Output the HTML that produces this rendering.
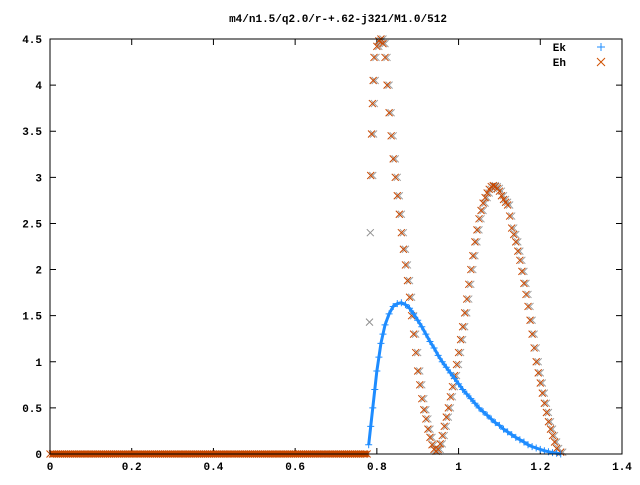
<!DOCTYPE html>
<html><head><meta charset="utf-8"><style>
body{margin:0;background:#fff}
text{font-family:"Liberation Mono","DejaVu Sans Mono",monospace;font-size:11px;font-weight:bold;fill:#000}
</style></head><body>
<svg id="chart" width="640" height="480" xmlns="http://www.w3.org/2000/svg">
<rect width="640" height="480" fill="#fff"/>
<text x="338" y="22" text-anchor="middle">m4/n1.5/q2.0/r-+.62-j321/M1.0/512</text>
<g id="axes"></g>
<g id="marks"></g>
<g>
<text x="566" y="51" text-anchor="end">Ek</text>
<text x="566" y="66" text-anchor="end">Eh</text>
<path d="M597,47h8M601,43v8" stroke="#1e8cff" stroke-width="1"/>
<path d="M597,58l8,8M605,58l-8,8" stroke="#d05000" stroke-width="1"/>
</g>
<rect x="50" y="39" width="572" height="415" fill="none" stroke="#000" stroke-width="1"/>
</svg>
<script>
const xTicks=[0,0.2,0.4,0.6,0.8,1,1.2,1.4];
const xTickLabels=["0","0.2","0.4","0.6","0.8","1","1.2","1.4"];
const yTicks=[0,0.5,1,1.5,2,2.5,3,3.5,4,4.5];
const yTickLabels=["0","0.5","1","1.5","2","2.5","3","3.5","4","4.5"];
const zeroX=[0,0.01,0.02,0.03,0.04,0.05,0.06,0.07,0.08,0.09,0.1,0.11,0.12,0.13,0.14,0.15,0.16,0.17,0.18,0.19,0.2,0.21,0.22,0.23,0.24,0.25,0.26,0.27,0.28,0.29,0.3,0.31,0.32,0.33,0.34,0.35,0.36,0.37,0.38,0.39,0.4,0.41,0.42,0.43,0.44,0.45,0.46,0.47,0.48,0.49,0.5,0.51,0.52,0.53,0.54,0.55,0.56,0.57,0.58,0.59,0.6,0.61,0.62,0.63,0.64,0.65,0.66,0.67,0.68,0.69,0.7,0.71,0.72,0.73,0.74,0.75,0.76,0.77];
const ekX=[0.78,0.785,0.79,0.795,0.80,0.805,0.81,0.815,0.82,0.83,0.84,0.85,0.86,0.87,0.88,0.89,0.90,0.91,0.92,0.93,0.94,0.95,0.96,0.97,0.98,0.99,1.0,1.01,1.02,1.03,1.04,1.05,1.06,1.07,1.08,1.09,1.10,1.11,1.12,1.13,1.14,1.15,1.16,1.17,1.18,1.19,1.20,1.21,1.22,1.23,1.24,1.25];
const ekY=[0.1,0.3,0.5,0.7,0.9,1.05,1.2,1.3,1.4,1.52,1.6,1.63,1.64,1.62,1.58,1.52,1.45,1.38,1.3,1.22,1.15,1.07,1.0,0.94,0.88,0.82,0.76,0.7,0.65,0.6,0.55,0.5,0.46,0.42,0.38,0.34,0.31,0.27,0.24,0.21,0.18,0.155,0.13,0.1,0.08,0.065,0.05,0.035,0.025,0.015,0.008,0.0];
const ehX=[0.785,0.787,0.789,0.791,0.793,0.80,0.805,0.81,0.815,0.82,0.825,0.83,0.835,0.84,0.845,0.85,0.855,0.86,0.865,0.87,0.875,0.88,0.885,0.89,0.895,0.90,0.905,0.91,0.915,0.92,0.925,0.93,0.935,0.94,0.945,0.95,0.955,0.96,0.965,0.97,0.975,0.98,0.985,0.99,0.995,1.0,1.005,1.01,1.015,1.02,1.025,1.03,1.035,1.04,1.045,1.05,1.055,1.06,1.065,1.07,1.075,1.08,1.085,1.09,1.095,1.10,1.105,1.11,1.115,1.12,1.125,1.13,1.135,1.14,1.145,1.15,1.155,1.16,1.165,1.17,1.175,1.18,1.185,1.19,1.195,1.20,1.205,1.21,1.215,1.22,1.225,1.23,1.235,1.24,1.25];
const ehY=[3.02,3.47,3.8,4.05,4.3,4.42,4.48,4.5,4.45,4.3,4.0,3.7,3.45,3.2,3.0,2.8,2.6,2.4,2.22,2.05,1.88,1.7,1.5,1.3,1.1,0.9,0.75,0.6,0.48,0.38,0.27,0.18,0.1,0.05,0.03,0.05,0.11,0.2,0.3,0.4,0.5,0.62,0.73,0.85,0.97,1.1,1.24,1.38,1.53,1.68,1.84,2.0,2.15,2.3,2.43,2.55,2.64,2.72,2.78,2.83,2.87,2.9,2.91,2.9,2.88,2.85,2.8,2.76,2.73,2.7,2.58,2.45,2.38,2.3,2.2,2.1,1.98,1.85,1.73,1.6,1.45,1.3,1.15,1.0,0.88,0.77,0.66,0.55,0.45,0.35,0.27,0.2,0.13,0.06,0.02];
const greyX=[0.782,0.784];
const greyY=[1.43,2.4];
const NS="http://www.w3.org/2000/svg";
const L=50,R=622,T=39,B=454;
function sx(v){return L+(v-0)/(1.4-0)*(R-L);}
function sy(v){return B-(v-0)/(4.5-0)*(B-T);}
const axes=document.getElementById('axes'),marks=document.getElementById('marks');
function mk(tag,attrs,parent){const e=document.createElementNS(NS,tag);for(const k in attrs)e.setAttribute(k,attrs[k]);parent.appendChild(e);return e;}
xTicks.forEach((v,i)=>{
 const x=sx(v);
 const t=mk('path',{d:`M${x},${B}v-6M${x},${T}v6`,stroke:'#000'},axes);
 
 
 const l=mk('text',{x:x,y:B+16,'text-anchor':'middle'},axes);l.textContent=xTickLabels[i];
 
 
});
yTicks.forEach((v,i)=>{
 const y=sy(v);
 const t=mk('path',{d:`M${L},${y}h6M${R},${y}h-6`,stroke:'#000'},axes);
 
 
 const l=mk('text',{x:L-8,y:y+4,'text-anchor':'end'},axes);l.textContent=yTickLabels[i];
 
 
});
function cross(x,y,c,name){const p=mk('path',{d:`M${x-3.5},${y-3.5}l7,7M${x+3.5},${y-3.5}l-7,7`,stroke:c,'stroke-width':1},marks);
 
 }
function plus(x,y,c,name){const p=mk('path',{d:`M${x-3.5},${y}h7M${x},${y-3.5}v7`,stroke:c,'stroke-width':1},marks);
 
 }
// grey companion series
ehX.forEach((v,i)=>cross(sx(v)+2,sy(ehY[i]),'#a0a0a0','eh-grey-point'));
greyX.forEach((v,i)=>cross(sx(v),sy(greyY[i]),'#909090','eh-grey-point'));
// baseline zeros
zeroX.forEach(v=>{cross(sx(v),sy(0),'#c84800','eh-point');cross(sx(v)+2.5,sy(0),'#c84800','eh-point');});
mk('rect',{x:sx(0),y:sy(0)-3,width:sx(0.78)-sx(0),height:6,fill:'#c84800'},marks);
ehX.forEach((v,i)=>cross(sx(v),sy(ehY[i]),'#c84800','eh-point'));
// Ek
const pl=mk('polyline',{points:ekX.map((v,i)=>sx(v)+','+sy(ekY[i])).join(' '),fill:'none',stroke:'#1e8cff','stroke-width':3},marks);


ekX.forEach((v,i)=>plus(sx(v),sy(ekY[i]),'#1e8cff','ek-point'));
</script>
</body></html>
